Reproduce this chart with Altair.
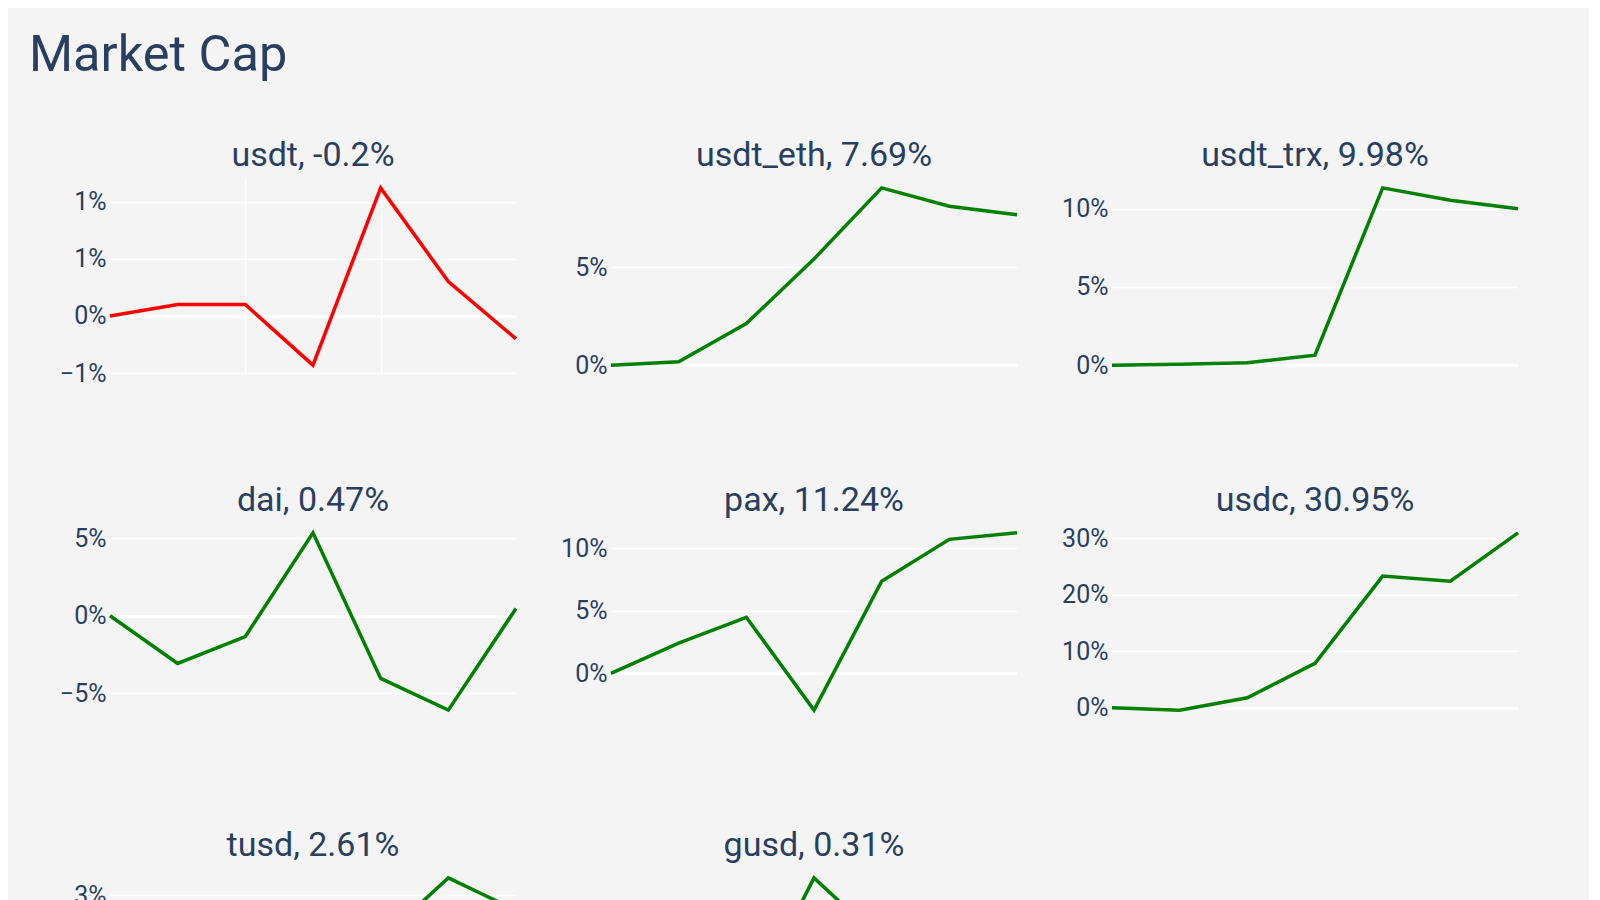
import altair as alt
import pandas as pd

# ---- data ----
days = [0, 1, 2, 3, 4, 5, 6]
names = ["usdt", "usdt_eth", "usdt_trx", "dai", "pax", "usdc", "tusd", "gusd"]

usdt = [0, 0.10, 0.10, -0.43, 1.12, 0.30, -0.20]
usdt_eth = [0, 0.17, 2.13, 5.43, 9.07, 8.13, 7.69]
usdt_trx = [0, 0.06, 0.15, 0.64, 11.32, 10.53, 9.98]
dai = [0, -3.08, -1.34, 5.36, -4.05, -6.10, 0.47]
pax = [0, 2.41, 4.48, -2.95, 7.37, 10.72, 11.24]
usdc = [0, -0.41, 1.78, 7.88, 23.30, 22.40, 30.95]
tusd = [0, -0.60, -1.10, 0.50, 1.85, 3.44, 2.61]
gusd = [0, 0.50, -0.45, 1.80, 0.74, -1.20, 0.31]

series = [usdt, usdt_eth, usdt_trx, dai, pax, usdc, tusd, gusd]

tick_usdt = [-0.5, 0, 0.5, 1]
tick_usdt_eth = [0, 5]
tick_usdt_trx = [0, 5, 10]
tick_dai = [-5, 0, 5]
tick_pax = [0, 5, 10]
tick_usdc = [0, 10, 20, 30]
tick_tusd = [-1, 0, 1, 2, 3]
tick_gusd = [-1, 0, 1]
ticks = [tick_usdt, tick_usdt_eth, tick_usdt_trx, tick_dai, tick_pax,
         tick_usdc, tick_tusd, tick_gusd]

xgrid_days = [2, 4]

TEXT = "#2a3f5f"
BG = "#f4f4f4"
FONT = "Roboto"


def panel(name, vals, tvals, show_xgrid):
    df = pd.DataFrame({"day": days, "value": [v / 100 for v in vals]})
    lo, hi = min(vals) / 100, max(vals) / 100
    pad = (hi - lo) * 0.05
    color = "#ff0000" if vals[-1] < 0 else "#008000"
    title = alt.TitleParams(
        text=f"{name}, {vals[-1]:g}%",
        font=FONT, fontSize=34, fontWeight="normal", color=TEXT,
        anchor="middle", frame="group", baseline="alphabetic", offset=-21,
    )
    if show_xgrid:
        xaxis = alt.Axis(values=xgrid_days, grid=True, labels=False, ticks=False,
                         domain=False, title=None, gridColor="white", gridWidth=1.5)
    else:
        xaxis = None
    yaxis = alt.Axis(
        values=[t / 100 for t in tvals], format=".0%", title=None,
        ticks=False, domain=False, labelFont=FONT, labelFontSize=25,
        labelColor=TEXT, labelPadding=4, gridColor="white",
        gridWidth={"condition": {"test": "datum.value === 0", "value": 3}, "value": 1.5},
    )
    return (
        alt.Chart(df, title=title)
        .mark_line(color=color, strokeWidth=3.5)
        .encode(
            x=alt.X("day:Q", scale=alt.Scale(domain=[0, 6], nice=False, zero=False), axis=xaxis),
            y=alt.Y("value:Q", scale=alt.Scale(domain=[lo - pad, hi + pad], nice=False, zero=False), axis=yaxis),
        )
        .properties(width=406, height=195)
    )


panels = [panel(n, s, t, i == 0) for i, (n, s, t) in enumerate(zip(names, series, ticks))]

chart = (
    alt.concat(
        *panels,
        columns=3,
        spacing={"row": 150, "column": 95},
        bounds="flush",
        title=alt.TitleParams(
            text="Market Cap", anchor="start", frame="group", font=FONT,
            fontSize=50.5, fontWeight="normal", color=TEXT, baseline="alphabetic",
            offset=18, dx=-81,
        ),
    )
    .properties(background=BG, padding={"left": 21, "top": 22, "right": 64, "bottom": 10})
    .configure_view(strokeWidth=0)
)

chart.save("out.html", embed_options={"renderer": "svg", "actions": False})
